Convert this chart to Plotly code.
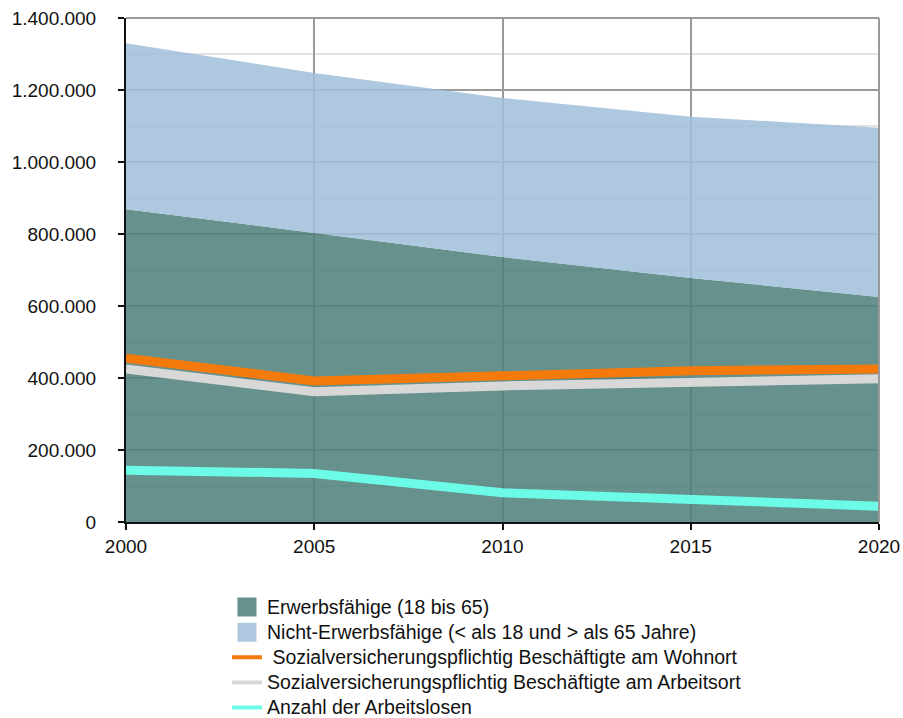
import plotly.graph_objects as go

# Population and employment figures, 2000-2020
years = [2000, 2005, 2010, 2015, 2020]
erwerbsfaehige = [869000, 803000, 736000, 678000, 625000]
nicht_erwerbsfaehige = [461000, 444000, 442000, 448000, 470000]
svb_wohnort = [455000, 392000, 406000, 420000, 425000]
svb_arbeitsort = [425000, 362000, 378000, 387000, 398000]
arbeitslose = [144000, 135000, 81000, 64000, 44000]

FONT = "Liberation Sans, Arial, Helvetica, sans-serif"

# area fills are slightly translucent so the grid shows through;
# the legend swatches use the equivalent solid colour on white
GREEN = "rgba(77,127,122,0.86)"
BLUE = "rgba(160,191,218,0.86)"
GREEN_SOLID = "rgb(102,145,141)"
BLUE_SOLID = "rgb(173,200,223)"
ORANGE = "#f47a0c"
GREY = "#d8d8d8"
CYAN = "#6cfbe6"


def legend_label(text):
    # slightly larger glyphs than the legend's row spacing would imply
    return f'<span style="font-size:19.5px">{text}</span>'


fig = go.Figure()

# Stacked population areas
fig.add_trace(go.Scatter(
    x=years, y=erwerbsfaehige, name="Erwerbsfähige (18 bis 65)",
    stackgroup="pop", mode="none", fillcolor=GREEN, showlegend=False,
))
fig.add_trace(go.Scatter(
    x=years, y=nicht_erwerbsfaehige,
    name="Nicht-Erwerbsfähige (< als 18 und > als 65 Jahre)",
    stackgroup="pop", mode="none", fillcolor=BLUE, showlegend=False,
))

# Employment / unemployment lines
lines = [
    (svb_wohnort, " Sozialversicherungspflichtig Beschäftigte am Wohnort", ORANGE),
    (svb_arbeitsort, "Sozialversicherungspflichtig Beschäftigte am Arbeitsort", GREY),
    (arbeitslose, "Anzahl der Arbeitslosen", CYAN),
]
for vals, name, color in lines:
    fig.add_trace(go.Scatter(
        x=years, y=vals, mode="lines", name=name,
        line=dict(color=color, width=9), showlegend=False,
    ))

# Legend entries: square swatches for areas, thin strokes for lines
fig.add_trace(go.Scatter(
    x=[None], y=[None], mode="markers",
    name=legend_label("Erwerbsfähige (18 bis 65)"),
    marker=dict(symbol="square", size=20, color=GREEN_SOLID,
                line=dict(width=3, color=GREEN_SOLID)),
))
fig.add_trace(go.Scatter(
    x=[None], y=[None], mode="markers",
    name=legend_label("Nicht-Erwerbsfähige (&lt; als 18 und &gt; als 65 Jahre)"),
    marker=dict(symbol="square", size=20, color=BLUE_SOLID,
                line=dict(width=3, color=BLUE_SOLID)),
))
for vals, name, color in lines:
    fig.add_trace(go.Scatter(
        x=[None], y=[None], mode="lines", name=legend_label(name),
        line=dict(color=color, width=4),
    ))

fig.update_layout(
    width=903, height=718,
    margin=dict(l=126, r=24, t=18, b=196, autoexpand=False),
    paper_bgcolor="white", plot_bgcolor="white",
    separators=",.",
    font=dict(family=FONT, size=19, color="#111"),
    showlegend=True,
    legend=dict(
        x=0.1341, y=-0.134, xanchor="left", yanchor="top",
        font=dict(family=FONT, size=17, color="#111"),
        bgcolor="rgba(0,0,0,0)", tracegroupgap=0,
        traceorder="normal", itemsizing="trace",
    ),
)

fig.update_xaxes(
    range=[2000, 2020], tickvals=years, ticktext=[str(y) for y in years],
    showgrid=True, gridcolor="#9a9a9a", gridwidth=1.5,
    showline=True, linecolor="#111", linewidth=2,
    ticks="outside", ticklen=6, tickcolor="#111", tickwidth=2,
    zeroline=False, automargin=False,
)
fig.update_yaxes(
    range=[0, 1400000], dtick=200000, tickformat=",d",
    showgrid=True, gridcolor="#9a9a9a", gridwidth=1.5,
    minor=dict(dtick=100000, showgrid=True, gridcolor="#e2e2e2", gridwidth=1.5),
    showline=True, linecolor="#111", linewidth=2,
    ticks="outside", ticklen=6, tickcolor="#111", tickwidth=2,
    ticklabelstandoff=18,
    zeroline=False, automargin=False,
)

# Grey frame on the top and right of the plotting area
fig.add_shape(type="line", xref="paper", yref="paper", x0=0, x1=1, y0=1, y1=1,
              line=dict(color="#9a9a9a", width=2))
fig.add_shape(type="line", xref="paper", yref="paper", x0=1, x1=1, y0=0, y1=1,
              line=dict(color="#9a9a9a", width=2))

fig.write_html("out.html")
